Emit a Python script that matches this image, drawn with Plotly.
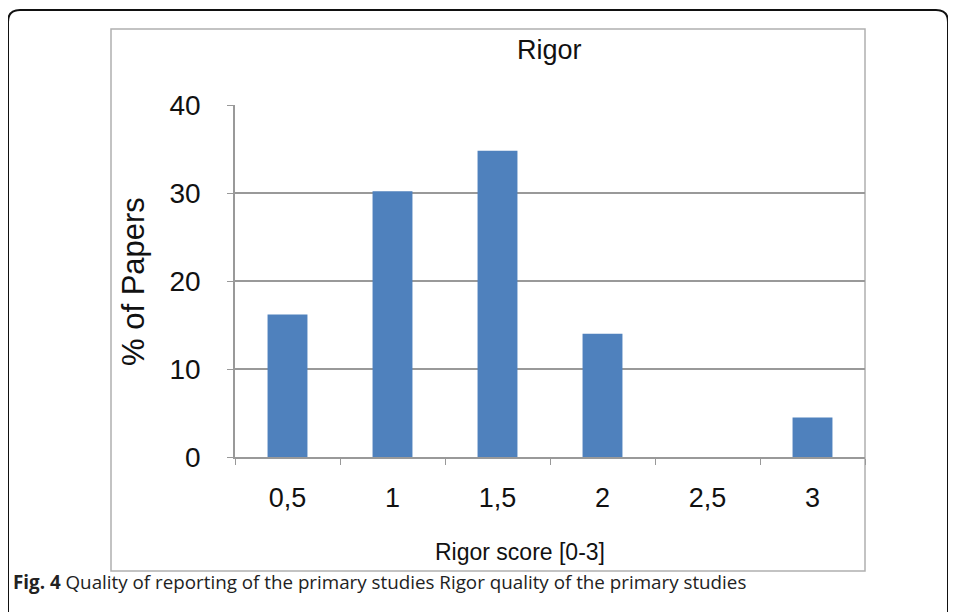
import plotly.graph_objects as go

categories = ["0,5", "1", "1,5", "2", "2,5", "3"]
values = [16.2, 30.2, 34.8, 14.0, 0.0, 4.5]
y_ticks = [0, 10, 20, 30, 40]

OFF = 8  # browser body margin
W, H = 956 - OFF, 612 - OFF
# plot area in page pixels
L, R, T, B = 235, 865, 105, 457
pw, ph = R - L, B - T

def px(x):
    return (x - L) / pw

def py(y):
    return (B - y) / ph

fig = go.Figure()
fig.add_trace(go.Bar(
    x=categories, y=values,
    marker=dict(color="#4F81BD", line=dict(width=0)),
    width=0.38,
))

shapes = []
shapes.append(dict(type="rect", xref="paper", yref="paper",
                   x0=px(111), x1=px(865), y0=py(571), y1=py(29),
                   line=dict(color="#b0b0b0", width=1.5), layer="below"))
x0, x1, y0, yb = px(8), px(948), py(10), py(640)
r, ry = 12 / pw, 12 / ph
path = (f"M {x0},{yb} L {x0},{y0 - ry} Q {x0},{y0} {x0 + r},{y0} "
        f"L {x1 - r},{y0} Q {x1},{y0} {x1},{y0 - ry} L {x1},{yb}")
shapes.append(dict(type="path", xref="paper", yref="paper", path=path,
                   line=dict(color="#111111", width=2)))

FONT = "Liberation Sans, Arial"
annotations = [
    dict(text="Rigor", xref="paper", yref="paper", x=px(549), y=py(50),
         xanchor="center", yanchor="middle", showarrow=False,
         font=dict(family=FONT, size=27, color="#111")),
    dict(text="% of Papers", xref="paper", yref="paper", x=px(133), y=py(282),
         xanchor="center", yanchor="middle", textangle=-90, showarrow=False,
         font=dict(family=FONT, size=31, color="#111")),
    dict(text="Rigor score [0-3]", xref="paper", yref="paper", x=px(520), y=py(552),
         xanchor="center", yanchor="middle", showarrow=False,
         font=dict(family=FONT, size=23, color="#111")),
    dict(text="<b>Fig. 4</b> Quality of reporting of the primary studies Rigor quality of the primary studies",
         xref="paper", yref="paper", x=px(11), y=py(582), xanchor="left", yanchor="middle",
         showarrow=False, font=dict(family="Open Sans", size=18.8, color="#222")),
]

fig.update_layout(
    width=W, height=H,
    margin=dict(l=L - OFF, r=W - (R - OFF), t=T - OFF, b=H - (B - OFF), autoexpand=False),
    paper_bgcolor="white", plot_bgcolor="white",
    showlegend=False,
    shapes=shapes, annotations=annotations,
)
fig.update_xaxes(
    type="category", showline=True, linecolor="#999", linewidth=1.5,
    ticks="outside", tickson="boundaries", ticklen=6, tickcolor="#999",
    tickfont=dict(family=FONT, size=27, color="#111"),
    ticklabelstandoff=16, showgrid=False,
)
fig.update_yaxes(
    range=[0, 40], tickvals=y_ticks, showline=True, linecolor="#999", linewidth=1.5,
    ticks="outside", ticklen=6, tickcolor="#999",
    showgrid=True, gridcolor="#999", gridwidth=1.5, zeroline=False,
    tickfont=dict(family=FONT, size=28, color="#111"),
    ticklabelstandoff=21,
)
fig.write_html("out.html")
